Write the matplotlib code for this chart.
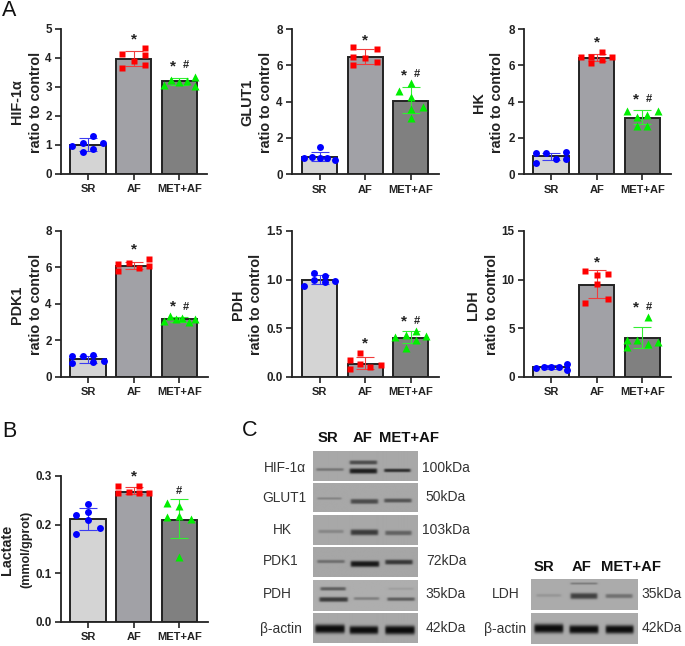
import numpy as np
import matplotlib
matplotlib.use("Agg")
import matplotlib.pyplot as plt

plt.rcParams['font.family'] = ['Liberation Sans', 'DejaVu Sans']
W, H = 685, 646
fig = plt.figure(figsize=(W/100, H/100), dpi=100)

groups = ['SR', 'AF', 'MET+AF']
bar_colors = ['#D4D4D4', '#A1A1A6', '#808080']
point_colors = ['#0000FF', '#FF0000', '#00EE00']
err_colors = ['#3C3CF0', '#F03C3C', '#33EE33']
markers = ['o', 's', '^']
marker_sizes = [5, 5, 5.8]

# ---------- data ----------
hif_means = [1.00, 3.97, 3.18]
hif_hi = [1.21, 4.23, 3.31]
hif_lo = [0.78, 3.71, 3.05]
hif_vals = [[0.96, 1.04, 1.31, 1.04, 0.86, 0.73],
            [4.11, 3.65, 3.88, 4.32, 4.09, 3.74],
            [3.04, 3.23, 3.15, 3.20, 3.34, 3.02]]
hif_off = [[-.34, -.12, .10, .33, .10, -.12],
           [-.26, -.26, 0, .26, .26, .26],
           [-.34, -.17, 0, .17, .34, .34]]

glut_means = [0.97, 6.48, 4.05]
glut_hi = [1.25, 6.92, 4.79]
glut_lo = [0.75, 6.10, 3.36]
glut_vals = [[0.88, 0.97, 0.88, 1.50, 0.88, 0.81],
             [7.03, 6.44, 6.40, 6.92, 6.18, 6.04],
             [4.57, 5.05, 4.28, 3.58, 3.71, 3.12]]
glut_off = [[-.33, -.17, 0, 0, .17, .34],
            [-.26, -.26, 0, .26, .26, -.26],
            [-.26, 0, 0, 0, .26, 0]]

hk_means = [1.00, 6.40, 3.12]
hk_hi = [1.20, 6.62, 3.54]
hk_lo = [0.77, 6.24, 2.75]
hk_vals = [[1.16, 0.64, 1.17, 0.84, 1.21, 0.86],
           [6.46, 6.48, 6.11, 6.75, 6.29, 6.46],
           [3.49, 3.17, 2.64, 3.27, 2.64, 3.49]]
hk_off = [[-.33, -.33, -.11, .11, .33, .33],
          [-.34, -.12, -.12, .11, .11, .33],
          [-.33, -.11, -.11, .11, .11, .34]]

pdk_means = [0.97, 6.10, 3.17]
pdk_hi = [1.15, 6.32, 3.30]
pdk_lo = [0.77, 5.90, 3.02]
pdk_vals = [[1.12, 0.77, 1.14, 1.19, 0.82, 0.88],
            [6.17, 5.81, 6.25, 5.99, 6.47, 6.08],
            [3.08, 3.32, 3.17, 3.21, 3.02, 3.19]]
pdk_off = [[-.34, -.34, -.11, .11, .11, .34],
           [-.34, -.34, -.11, .12, .34, .34],
           [-.34, -.20, -.06, .07, .21, .34]]

pdh_means = [1.00, 0.13, 0.40]
pdh_hi = [1.05, 0.20, 0.47]
pdh_lo = [0.95, 0.075, 0.35]
pdh_vals = [[0.93, 1.07, 1.00, 1.04, 0.98, 0.99],
            [0.17, 0.08, 0.24, 0.13, 0.10, 0.12],
            [0.41, 0.43, 0.30, 0.47, 0.38, 0.42]]
pdh_off = [[-.33, -.11, -.11, .12, .12, .34],
           [-.34, -.34, -.12, -.12, .11, .34],
           [-.34, -.11, -.11, .11, .11, .34]]

ldh_means = [0.96, 9.48, 3.95]
ldh_hi = [1.20, 10.96, 5.09]
ldh_lo = [0.76, 8.08, 2.92]
ldh_vals = [[0.86, 1.03, 0.96, 0.96, 1.34, 0.69],
            [10.86, 10.50, 9.50, 10.60, 8.04, 7.56],
            [3.81, 3.06, 3.81, 3.40, 6.12, 3.57]]
ldh_off = [[-.33, -.16, 0, .17, .34, .34],
           [-.26, 0, 0, .26, .26, -.26],
           [-.33, -.33, -.11, .12, .12, .34]]

lac_means = [0.211, 0.268, 0.209]
lac_hi = [0.235, 0.277, 0.252]
lac_lo = [0.189, 0.262, 0.172]
lac_vals = [[0.220, 0.180, 0.242, 0.226, 0.209, 0.192],
            [0.279, 0.264, 0.268, 0.279, 0.264, 0.265],
            [0.244, 0.216, 0.238, 0.218, 0.133, 0.211]]
lac_off = [[-.26, -.26, 0, 0, 0, .26],
           [-.34, -.34, -.11, .12, .12, .34],
           [-.26, -.26, 0, 0, 0, .26]]


def px_axes(l, r, y0, ytop):
    return fig.add_axes([l/W, 1-y0/H, (r-l)/W, (y0-ytop)/H])


def panel(box, ylim, yticks, yfmt, title, sub, means, hi, lo, vals, off,
          marks, first_center, label_x, subsize=10.4):
    l, r, y0, ytop = box
    ax = px_axes(l, r, y0, ytop)
    ax.patch.set_alpha(0)
    step = 45.6
    ax.set_xlim(-first_center / step, (r - l - first_center) / step)
    ax.set_ylim(*ylim)
    pos = np.arange(3)
    ax.bar(pos, means, width=0.77, color=bar_colors, edgecolor='#222222', linewidth=1.4, zorder=2)
    for i in pos:
        ax.errorbar(i, means[i], yerr=[[means[i]-lo[i]], [hi[i]-means[i]]], color=err_colors[i],
                    elinewidth=0.8, capsize=6.5, capthick=0.8, zorder=3)
        ax.plot(i + np.array(off[i]), vals[i], ls='none', marker=markers[i], ms=marker_sizes[i],
                color=point_colors[i], mec='none', zorder=4, clip_on=False)
    for s in ('top', 'right'):
        ax.spines[s].set_visible(False)
    for s in ('left', 'bottom'):
        ax.spines[s].set_linewidth(1.3)
        ax.spines[s].set_color('#222222')
    ax.set_xticks(pos, groups, fontsize=8, fontweight='bold', color='#222222')
    ax.set_yticks(yticks, [yfmt % t for t in yticks], fontsize=8.4, fontweight='bold', color='#222222')
    ax.tick_params(axis='both', length=4.2, width=1.2, color='#222222', pad=2.5)
    ax.tick_params(axis='x', pad=3.5)
    for i, txt, yv, dx in marks:
        ax.annotate(txt, (i, yv), xytext=(dx, 0), textcoords='offset points', ha='center', va='center',
                    fontsize=11 if txt == '*' else 8, fontweight='bold', color='#222222', zorder=5)
    ymid = (y0 + ytop) / 2 + 1
    fig.text(label_x/W, 1-ymid/H, title, rotation=90, ha='center', va='center', fontsize=10.4,
             fontweight='bold', color='#222222')
    fig.text((label_x+18.5)/W, 1-ymid/H, sub, rotation=90, ha='center', va='center', fontsize=subsize,
             fontweight='bold', color='#222222')


panel((61, 207, 173.5, 28.7), (0, 5), [0, 1, 2, 3, 4, 5], '%d', 'HIF-1α', 'ratio to control',
      hif_means, hif_hi, hif_lo, hif_vals, hif_off,
      [(1, '*', 4.62, 0), (2, '*', 3.70, -4.5), (2, '#', 3.74, 4.5)], 27, 17)
panel((292, 439, 174.3, 29), (0, 8), [0, 2, 4, 6, 8], '%d', 'GLUT1', 'ratio to control',
      glut_means, glut_hi, glut_lo, glut_vals, glut_off,
      [(1, '*', 7.38, 0), (2, '*', 5.42, -4.5), (2, '#', 5.53, 4.5)], 27.5, 247.5)
panel((524, 671, 174.3, 29), (0, 8), [0, 2, 4, 6, 8], '%d', 'HK', 'ratio to control',
      hk_means, hk_hi, hk_lo, hk_vals, hk_off,
      [(1, '*', 7.25, 0), (2, '*', 4.10, -4.5), (2, '#', 4.16, 4.5)], 27, 479)
panel((61, 208, 376.7, 231), (0, 8), [0, 2, 4, 6, 8], '%d', 'PDK1', 'ratio to control',
      pdk_means, pdk_hi, pdk_lo, pdk_vals, pdk_off,
      [(1, '*', 6.98, 0), (2, '*', 3.85, -4.5), (2, '#', 3.85, 4.5)], 27, 17)
panel((292, 439, 376.7, 231), (0, 1.5), [0, 0.5, 1.0, 1.5], '%.1f', 'PDH', 'ratio to control',
      pdh_means, pdh_hi, pdh_lo, pdh_vals, pdh_off,
      [(1, '*', 0.345, 0), (2, '*', 0.57, -4.5), (2, '#', 0.57, 4.5)], 27.5, 238)
panel((524, 671, 376.7, 231), (0, 15), [0, 5, 10, 15], '%d', 'LDH', 'ratio to control',
      ldh_means, ldh_hi, ldh_lo, ldh_vals, ldh_off,
      [(1, '*', 11.8, 0), (2, '*', 7.1, -4.5), (2, '#', 7.2, 4.5)], 27, 473)
panel((61, 208, 621.7, 476), (0, 0.3), [0, 0.1, 0.2, 0.3], '%.1f', 'Lactate', '(mmol/gprot)',
      lac_means, lac_hi, lac_lo, lac_vals, lac_off,
      [(1, '*', 0.300, 0), (2, '#', 0.270, 0)], 27, 7.5, subsize=9)

# ---------- blot band tables: (lane left, lane right, row, thickness, darkness) as fractions of strip ----------
hif_bands = [(.03, .29, .62, .05, .30), (.35, .61, .67, .09, .82), (.35, .61, .38, .07, .55),
             (.68, .93, .65, .06, .72)]
glut_bands = [(.04, .27, .55, .04, .22), (.36, .62, .65, .085, .55), (.68, .94, .62, .07, .50)]
hk_bands = [(.05, .29, .55, .06, .20), (.36, .62, .58, .10, .65), (.69, .94, .60, .08, .42)]
pdk_bands = [(.04, .30, .50, .055, .34), (.36, .63, .58, .10, .85), (.69, .95, .52, .08, .66)]
pdh_bands = [(.07, .31, .28, .06, .45), (.06, .33, .63, .08, .65), (.39, .63, .60, .05, .26),
             (.72, .96, .28, .04, .08), (.71, .97, .62, .06, .45)]
act_bands = [(.02, .30, .53, .15, .93), (.35, .62, .57, .14, .92), (.69, .97, .57, .15, .93)]
ldh_bands = [(.05, .28, .53, .05, .12), (.37, .62, .55, .10, .62), (.70, .95, .55, .07, .34),
             (.37, .62, .14, .035, .28)]
act2_bands = [(.03, .30, .50, .15, .93), (.36, .63, .53, .14, .92), (.70, .96, .53, .14, .92)]

strips = [((313.3, 417.7, 450.7, 480.7), hif_bands, 0.66),
          ((313.3, 417.7, 482.7, 512.0), glut_bands, 0.66),
          ((313.3, 417.7, 515.3, 545.3), hk_bands, 0.66),
          ((313.3, 417.7, 547.3, 577.3), pdk_bands, 0.65),
          ((313.3, 417.7, 580.0, 610.7), pdh_bands, 0.68),
          ((313.3, 417.7, 613.3, 643.3), act_bands, 0.66),
          ((531.0, 638.0, 579.0, 610.0), ldh_bands, 0.67),
          ((531.0, 638.0, 613.3, 644.3), act2_bands, 0.67)]


def blot(box, bands, bg):
    l, r, t, b = box
    ax = fig.add_axes([l/W, 1-b/H, (r-l)/W, (b-t)/H])
    nx, ny = int((r-l)*2), int((b-t)*2)
    xx, yy = np.meshgrid(np.linspace(0, 1, nx), np.linspace(0, 1, ny))
    img = np.full((ny, nx), bg, dtype=float)
    for x0, x1, yc, th, d in bands:
        edge = 0.012
        prof = 0.5*(np.tanh((xx-x0)/edge) - np.tanh((xx-x1)/edge))
        img = img*(1 - d*prof*np.exp(-np.abs((yy-yc)/th)**3))
    ax.imshow(img, cmap='gray', vmin=0, vmax=1, aspect='auto', interpolation='bilinear')
    ax.axis('off')


for box, bands, bg in strips:
    blot(box, bands, bg)

# ---------- blot labels ----------
left_names = ['HIF-1α', 'GLUT1', 'HK', 'PDK1', 'PDH', 'β-actin']
left_sizes = ['100kDa', '50kDa', '103kDa', '72kDa', '35kDa', '42kDa']
left_ny = [467.5, 497.5, 530, 561, 594, 628.5]
left_nx = [284.5, 284.5, 282, 280.5, 277, 280.5]
left_sy = [467.5, 497, 530, 561, 594, 628.5]
left_sx = [446, 446, 446, 446, 446, 446]
tc = '#333333'
for n, nx_, ny_, s, sx_, sy_ in zip(left_names, left_nx, left_ny, left_sizes, left_sx, left_sy):
    fig.text(nx_/W, 1-ny_/H, n, ha='center', va='center', fontsize=9.9, color=tc)
    fig.text(sx_/W, 1-sy_/H, s, ha='center', va='center', fontsize=10, color=tc)
for n, x_, y_ in [('LDH', 506, 594), ('β-actin', 505, 628.5), ('35kDa', 662, 594), ('42kDa', 662, 628.5)]:
    fig.text(x_/W, 1-y_/H, n, ha='center', va='center', fontsize=10, color=tc)

for x_, g in zip([327.5, 362.5, 409], groups):
    fig.text(x_/W, 1-437.5/H, g, ha='center', va='center', fontsize=10.7, fontweight='bold', color='#111111')
for x_, g in zip([543.5, 582, 630.5], groups):
    fig.text(x_/W, 1-567/H, g, ha='center', va='center', fontsize=10.7, fontweight='bold', color='#111111')

# ---------- panel letters ----------
fig.text(1.5/W, 1-16/H, 'A', fontsize=15.5, color='#111111', ha='left', va='baseline')
fig.text(2.5/W, 1-436.7/H, 'B', fontsize=15.5, color='#111111', ha='left', va='baseline')
fig.text(242/W, 1-436/H, 'C', fontsize=15.5, color='#111111', ha='left', va='baseline')

fig.savefig('out.png', dpi=100)
